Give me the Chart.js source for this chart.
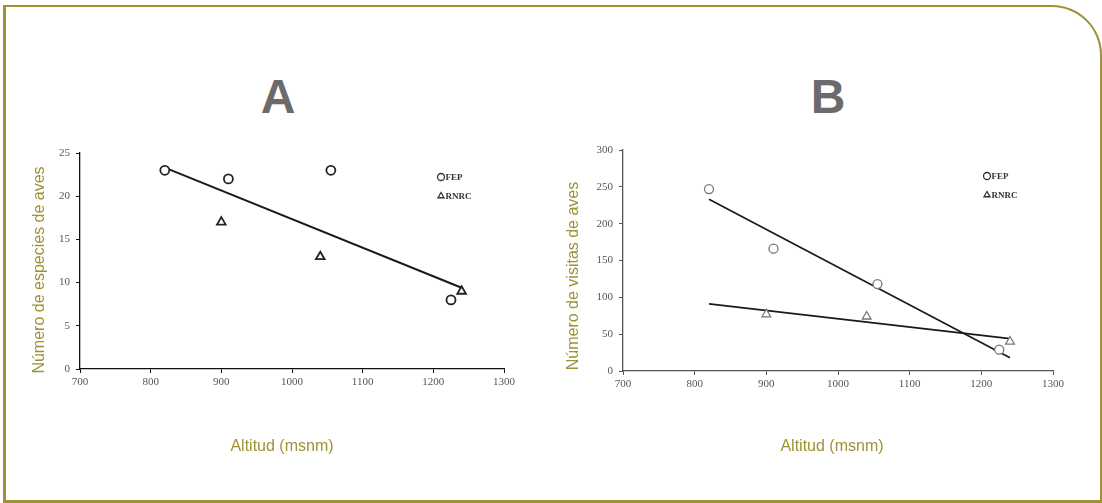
<!DOCTYPE html>
<html>
<head>
<meta charset="utf-8">
<script src="https://cdn.jsdelivr.net/npm/chart.js@4"></script>
<style>
  html, body { margin: 0; padding: 0; background: #fff; }
  body { width: 1102px; height: 503px; position: relative; overflow: hidden; }
  .marco {
    position: absolute; left: 3px; top: 5px; width: 1094px; height: 493px;
    border: 2px solid #9d9336; border-left-width: 3px; border-bottom-width: 3px;
    border-top-right-radius: 50px;
  }
  .letra {
    position: absolute; top: 73px; width: 80px; margin-left: -40px;
    text-align: center; font: bold 48px "Liberation Sans", Arial, sans-serif;
    line-height: 48px; color: #6b6b6b;
  }
  canvas { position: absolute; top: 0; }
</style>
</head>
<body>
<div class="marco"></div>
<div class="letra" style="left:278px">A</div>
<div class="letra" style="left:828px">B</div>
<canvas id="chartA" width="551" height="503" style="left:0"></canvas>
<canvas id="chartB" width="551" height="503" style="left:551px"></canvas>
<script>
// datos
const altFEP = [820, 910, 1055, 1225];
const altRNRC = [900, 1040, 1240];
const especiesFEP = [23, 22, 23, 8];
const especiesRNRC = [17, 13, 9];
const visitasFEP = [247, 166, 118, 29];
const visitasRNRC = [77, 74, 40];

// extremos de las rectas de tendencia
const altTendencia = [820, 1240];
const tendEspecies = [23.3, 9.4];
const tendVisitasFEP = [233, 18];
const tendVisitasRNRC = [91, 44];

const etiquetas = ['FEP', 'RNRC'];
const xTicks = [700, 800, 900, 1000, 1100, 1200, 1300];

const oliva = '#9d9336';
const serif = '"Liberation Serif", "Times New Roman", serif';
const sans = '"Liberation Sans", Arial, sans-serif';

function puntos(xs, ys) {
  return xs.map((x, i) => ({ x: x, y: ys[i] }));
}

// leyenda dibujada dentro del área del gráfico
const leyendaPlugin = {
  id: 'leyendaInterna',
  afterDraw(chart, args, opts) {
    const ctx = chart.ctx;
    const area = chart.chartArea;
    const x = area.right + opts.dx;
    let y = area.top + opts.dy;
    ctx.save();
    ctx.font = 'bold 9px ' + serif;
    ctx.textBaseline = 'middle';
    ctx.strokeStyle = opts.color;
    ctx.lineWidth = 1.3;
    etiquetas.forEach((txt, i) => {
      const estilo = i === 0 ? 'circle' : 'triangle';
      ctx.fillStyle = '#fff';
      Chart.helpers.drawPoint(ctx, { pointStyle: estilo, radius: 3.5, borderWidth: 1.3 }, x, y);
      ctx.fillStyle = opts.color;
      ctx.fillText(txt, x + 4.5, y + 0.5);
      y += opts.gap;
    });
    ctx.restore();
  }
};

// títulos de los ejes en posición fija
const titulosPlugin = {
  id: 'titulosEjes',
  afterDraw(chart, args, opts) {
    const ctx = chart.ctx;
    ctx.save();
    ctx.font = '16px ' + sans;
    ctx.fillStyle = oliva;
    ctx.textAlign = 'center';
    ctx.textBaseline = 'middle';
    ctx.fillText(opts.x, opts.xPos[0], opts.xPos[1]);
    ctx.translate(opts.yPos[0], opts.yPos[1]);
    ctx.rotate(-Math.PI / 2);
    ctx.fillText(opts.y, 0, 0);
    ctx.restore();
  }
};

function crearGrafico(id, cfg) {
  const datasets = [
    {
      label: 'FEP', data: puntos(altFEP, cfg.fep), pointStyle: 'circle',
      pointRadius: 4.5, borderColor: cfg.marca, backgroundColor: '#fff', pointBorderWidth: cfg.grosorMarca
    },
    {
      label: 'RNRC', data: puntos(altRNRC, cfg.rnrc), pointStyle: 'triangle',
      pointRadius: 5, borderColor: cfg.marca, backgroundColor: '#fff', pointBorderWidth: cfg.grosorMarca
    }
  ];
  cfg.tendencias.forEach(t => {
    datasets.push({
      type: 'line', label: 'tendencia', data: puntos(altTendencia, t),
      showLine: true, pointRadius: 0, borderColor: '#1a1a1a', borderWidth: cfg.grosorLinea, fill: false
    });
  });

  const tickFont = { family: serif, size: 11 };

  return new Chart(document.getElementById(id), {
    type: 'scatter',
    data: { datasets: datasets },
    options: {
      responsive: false,
      devicePixelRatio: 1,
      animation: false,
      layout: { padding: { left: 0, top: cfg.top, right: cfg.right, bottom: 0 } },
      plugins: {
        legend: { display: false },
        tooltip: { enabled: false },
        leyendaInterna: { dx: cfg.legX, dy: cfg.legY, gap: 19, color: '#333' },
        titulosEjes: { x: 'Altitud (msnm)', y: cfg.tituloY, xPos: cfg.xTitulo, yPos: cfg.yTitulo }
      },
      scales: {
        x: {
          type: 'linear', min: 700, max: 1300,
          afterFit: s => { s.height = cfg.xAlto; },
          afterBuildTicks: s => { s.ticks = xTicks.map(v => ({ value: v })); },
          border: { color: cfg.eje, width: 1.3 },
          grid: { drawOnChartArea: false, drawTicks: true, tickLength: 4, color: cfg.eje },
          ticks: { padding: 3, color: '#555', font: tickFont, callback: v => String(v) }
        },
        y: {
          type: 'linear', min: 0, max: cfg.ymax,
          afterFit: s => { s.width = cfg.yAncho; },
          border: { color: cfg.eje, width: 1.3 },
          grid: { drawOnChartArea: false, drawTicks: true, tickLength: 4, color: cfg.eje },
          ticks: { stepSize: cfg.paso, padding: 6, color: '#555', font: tickFont, callback: v => String(v) }
        }
      }
    },
    plugins: [leyendaPlugin, titulosPlugin]
  });
}

crearGrafico('chartA', {
  fep: especiesFEP, rnrc: especiesRNRC, tendencias: [tendEspecies],
  ymax: 25, paso: 5, tituloY: 'Número de especies de aves',
  top: 153, right: 47, yAncho: 80, xAlto: 134,
  xTitulo: [282, 447], yTitulo: [40, 270],
  legX: -63, legY: 24, marca: '#222', eje: '#111', grosorMarca: 1.8, grosorLinea: 2
});

crearGrafico('chartB', {
  fep: visitasFEP, rnrc: visitasRNRC, tendencias: [tendVisitasFEP, tendVisitasRNRC],
  ymax: 300, paso: 50, tituloY: 'Número de visitas de aves',
  top: 150, right: 49, yAncho: 72, xAlto: 132,
  xTitulo: [281, 447], yTitulo: [23, 276],
  legX: -66, legY: 26, marca: '#777', eje: '#555', grosorMarca: 1.3, grosorLinea: 1.7
});
</script>
</body>
</html>
